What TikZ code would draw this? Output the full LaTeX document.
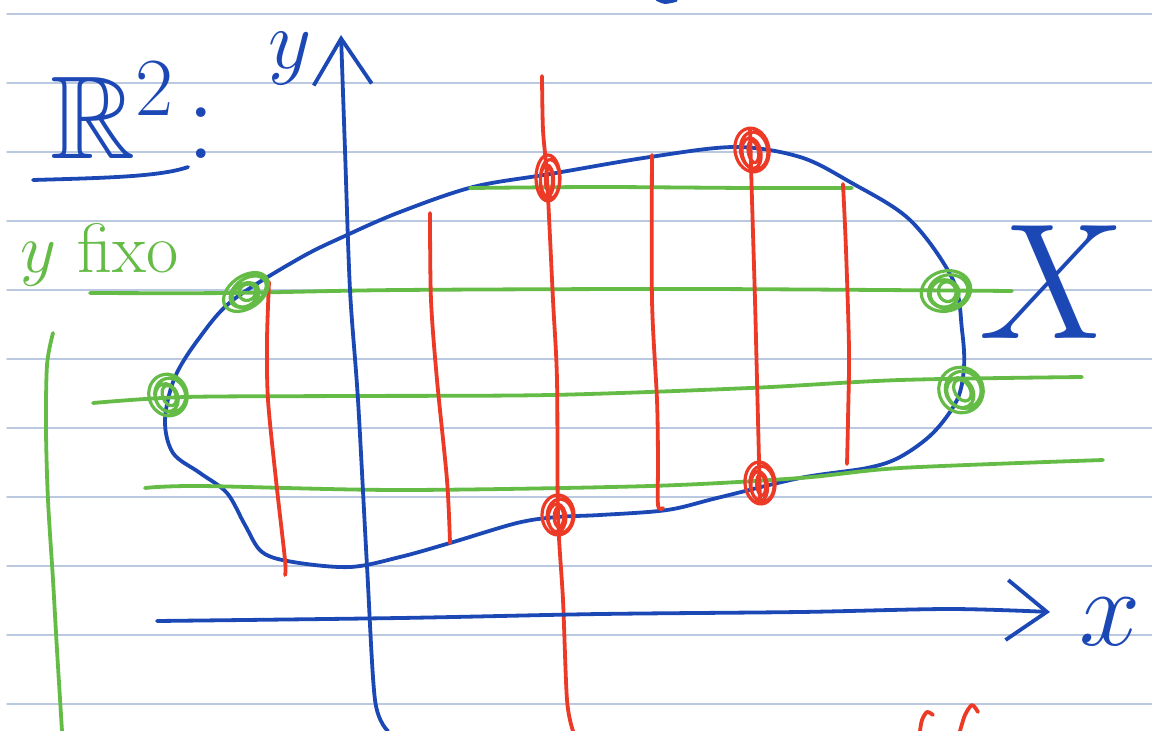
\RequirePackage{fix-cm}
\documentclass[tikz,border=0pt]{standalone}
\usepackage{amsmath,amssymb}
\usetikzlibrary{arrows.meta}
\definecolor{ruling}{RGB}{186,200,224}
\definecolor{inkblue}{RGB}{28,72,182}
\definecolor{inkred}{RGB}{236,58,38}
\definecolor{inkgreen}{RGB}{100,187,70}

\begin{document}
\begin{tikzpicture}[x=1pt,y=-1pt,line cap=round,line join=round,
  rule/.style={draw=ruling,line width=1.4pt},
  bluepen/.style={draw=inkblue,line width=3.8pt},
  redpen/.style={draw=inkred,line width=3.8pt},
  greenpen/.style={draw=inkgreen,line width=3.8pt},
  hand/.style={inner sep=0pt,font=\fontsize{#1}{#1}\selectfont}]
  \fill[white] (0,0) rectangle (1152,731);
  \useasboundingbox (0,0) rectangle (1152,731);
  \foreach \k in {0,...,10}{\draw[rule] (7,{14+69*\k})--(1152,{14+69*\k});}
  \node[hand=118,text=inkblue,anchor=base west] (Rtwo) at (50,158) {$\mathbb{R}^2\!:$};
  \draw[bluepen] (33,180) .. controls (100,178) and (160,177) .. (188,167);
  \node[hand=70,text=inkgreen,anchor=base west] (yfixo) at (20,272) {$y$ fixo};
  \draw[greenpen] plot[smooth] coordinates {(53,333) (47,365) (46,430) (48,500) (53,580) (57,650) (62,731)};
  \draw[bluepen] plot[smooth cycle,tension=.55] coordinates {(165,420) (175,377) (200,337) (233,300)
    (300,258) (347,235) (400,212) (473,187) (550,174) (650,157) (735,147) (800,157) (850,182)
    (910,220) (953,280) (962,330) (964,367) (957,400) (933,433) (900,457) (867,468) (800,478)
    (717,498) (667,510) (600,515) (557,517) (517,523) (450,543) (400,557) (350,567) (293,562)
    (262,552) (245,525) (227,493) (200,473) (173,453)};
  \draw[greenpen] plot[smooth] coordinates {(470,188) (600,187) (750,188) (852,188)};
  \draw[greenpen] plot[smooth] coordinates {(90,293) (230,293) (400,290) (700,289) (1012,291)};
  \draw[greenpen] plot[smooth] coordinates {(93,403) (185,397) (350,396) (550,395) (750,388) (900,380) (1082,377)};
  \draw[greenpen] plot[smooth] coordinates {(145,488) (200,486) (400,490) (650,486) (800,478) (900,468) (1103,460)};
  \draw[redpen] plot[smooth] coordinates {(269,282) (267,340) (268,400) (276,480) (285,560) (285,575)};
  \draw[redpen] plot[smooth] coordinates {(430,213) (431,300) (437,380) (447,480) (450,543)};
  \draw[redpen] plot[smooth] coordinates {(542,76) (543,130) (547,178) (553,300) (557,380) (558,515) (563,600) (567,700) (573,731)};
  \draw[redpen] plot[smooth] coordinates {(652,155) (652,300) (657,400) (658,460) (658,505) (663,508)};
  \draw[redpen] plot[smooth] coordinates {(750,130) (752,200) (755,300) (757,380) (759,460) (760,500)};
  \draw[redpen] plot[smooth] coordinates {(843,184) (846,250) (849,350) (848,420) (847,464)};
  \foreach \px/\py/\a/\b/\r in {548/178/12/23/0,752/150/17/22/10,558/515/16/20/0,760/483/15/21/5}{
    \draw[redpen,line width=3.2pt,shift={(\px,\py)},rotate=\r] (0,0) ellipse ({\a} and {\b})
      (2,1) ellipse ({.8*\a} and {.85*\b}) (-1,3) ellipse ({.55*\a} and {.7*\b})
      (1,2) ellipse ({.3*\a} and {.5*\b});}
  \foreach \px/\py/\a/\b/\r in {246/292/25/16/35,168/395/19/21/20,946/291/25/20/15,961/390/22/23/30}{
    \draw[greenpen,line width=3.2pt,shift={(\px,\py)},rotate=\r] (0,0) ellipse ({\a} and {\b})
      (2,1) ellipse ({.8*\a} and {.82*\b}) (-2,2) ellipse ({.58*\a} and {.68*\b})
      (1,1) ellipse ({.35*\a} and {.5*\b});}
  \draw[bluepen,-{Straight Barb[length=46pt,width=58pt]}] plot[smooth] coordinates {(388,731) (375,700) (367,566) (358,400) (350,290) (345,150) (341,35)};
  \draw[bluepen,-{Straight Barb[length=40pt,width=60pt]}] plot[smooth] coordinates {(157,621) (400,618) (600,614) (800,612) (950,609) (1050,612)};
  \node[hand=84,text=inkblue,anchor=base] (ylab) at (290,68) {$y$};
  \node[hand=110,text=inkblue,anchor=base] (xlab) at (1110,645) {$x$};
  \node[hand=165,text=inkblue,anchor=base] (Xset) at (1052,338) {$X$};
  \draw[bluepen] plot[smooth] coordinates {(657,-1) (665,2) (676,0)};
  \draw[redpen] plot[smooth] coordinates {(920,731) (922,720) (927,712) (933,715)};
  \draw[redpen] plot[smooth] coordinates {(960,731) (965,715) (972,705) (978,712)};
\end{tikzpicture}
\end{document}
